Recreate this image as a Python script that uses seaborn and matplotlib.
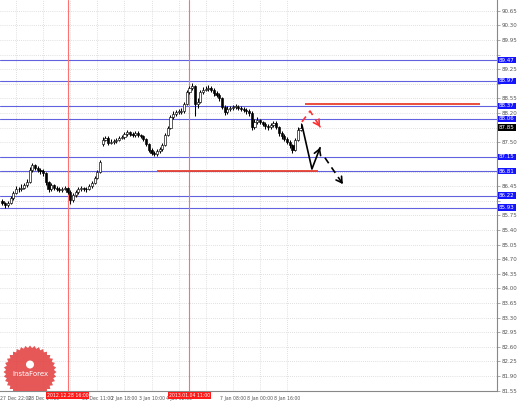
import numpy as np
import matplotlib
matplotlib.use("Agg")
import matplotlib.pyplot as plt
import matplotlib.patches as mpatches
import seaborn as sns

# hourly candles, bar index = position along the time axis
opens = [86.10, 86.05, 86.00, 86.05, 86.17, 86.29, 86.38, 86.38, 86.41, 86.48,
         86.55, 86.84, 86.96, 86.89, 86.84, 86.81, 86.77, 86.55, 86.38, 86.48,
         86.41, 86.38, 86.36, 86.38, 86.41, 86.31, 86.12, 86.24, 86.31, 86.38,
         86.41, 86.38, 86.38, 86.45, 86.53, 86.65, 86.79, 87.45, 87.56, 87.61,
         87.49, 87.51, 87.53, 87.56, 87.61, 87.63, 87.70, 87.75, 87.70, 87.68,
         87.73, 87.68, 87.65, 87.58, 87.46, 87.32, 87.25, 87.22, 87.29, 87.34,
         87.44, 87.68, 87.85, 88.11, 88.18, 88.23, 88.23, 88.25, 88.42, 88.71,
         88.80, 88.85, 88.42, 88.47, 88.71, 88.76, 88.78, 88.80, 88.76, 88.68,
         88.64, 88.56, 88.35, 88.23, 88.30, 88.32, 88.35, 88.35, 88.32, 88.30,
         88.28, 88.25, 88.21, 87.87, 87.99, 88.04, 87.99, 87.94, 87.89, 87.87,
         87.92, 87.97, 87.87, 87.72, 87.65, 87.58, 87.51, 87.44, 87.32, 87.56,
         87.80]
closes = [86.05, 86.00, 86.05, 86.17, 86.29, 86.38, 86.38, 86.41, 86.48, 86.55,
          86.84, 86.96, 86.89, 86.84, 86.81, 86.77, 86.55, 86.38, 86.48, 86.41,
          86.38, 86.36, 86.38, 86.41, 86.31, 86.12, 86.24, 86.31, 86.38, 86.41,
          86.38, 86.38, 86.45, 86.53, 86.65, 86.79, 87.03, 87.56, 87.61, 87.49,
          87.51, 87.53, 87.56, 87.61, 87.63, 87.70, 87.75, 87.70, 87.68, 87.73,
          87.68, 87.65, 87.58, 87.46, 87.32, 87.25, 87.22, 87.29, 87.34, 87.44,
          87.68, 87.85, 88.11, 88.18, 88.23, 88.23, 88.25, 88.42, 88.71, 88.80,
          88.85, 88.42, 88.47, 88.71, 88.76, 88.78, 88.80, 88.76, 88.68, 88.64,
          88.56, 88.35, 88.23, 88.30, 88.32, 88.35, 88.35, 88.32, 88.30, 88.28,
          88.25, 88.21, 87.87, 87.99, 88.04, 87.99, 87.94, 87.89, 87.87, 87.92,
          87.97, 87.87, 87.72, 87.65, 87.58, 87.51, 87.44, 87.32, 87.56, 87.80,
          87.85]
highs = [86.14, 86.08, 86.09, 86.22, 86.33, 86.45, 86.44, 86.50, 86.53, 86.62,
         86.90, 87.00, 86.98, 86.93, 86.88, 86.85, 86.80, 86.58, 86.53, 86.51,
         86.45, 86.42, 86.43, 86.46, 86.44, 86.35, 86.29, 86.36, 86.42, 86.46,
         86.44, 86.43, 86.50, 86.58, 86.70, 86.84, 87.08, 87.62, 87.66, 87.64,
         87.57, 87.58, 87.60, 87.65, 87.68, 87.74, 87.80, 87.78, 87.74, 87.77,
         87.76, 87.71, 87.68, 87.61, 87.49, 87.36, 87.29, 87.33, 87.39, 87.49,
         87.72, 87.90, 88.16, 88.24, 88.28, 88.29, 88.31, 88.47, 88.76, 88.86,
         88.92, 88.88, 88.55, 88.76, 88.82, 88.86, 88.88, 88.84, 88.79, 88.72,
         88.68, 88.59, 88.39, 88.36, 88.38, 88.40, 88.41, 88.39, 88.36, 88.34,
         88.31, 88.29, 88.24, 88.05, 88.10, 88.07, 88.02, 87.98, 87.93, 87.97,
         88.02, 88.00, 87.90, 87.76, 87.69, 87.62, 87.55, 87.47, 87.60, 87.86,
         87.97]
lows = [85.99, 85.93, 85.96, 86.02, 86.12, 86.25, 86.31, 86.34, 86.37, 86.44,
        86.52, 86.80, 86.84, 86.78, 86.75, 86.70, 86.48, 86.30, 86.33, 86.36,
        86.33, 86.31, 86.32, 86.35, 86.26, 86.03, 86.08, 86.20, 86.27, 86.34,
        86.33, 86.32, 86.35, 86.41, 86.50, 86.62, 86.76, 87.42, 87.52, 87.44,
        87.45, 87.47, 87.49, 87.52, 87.57, 87.59, 87.66, 87.64, 87.62, 87.63,
        87.63, 87.60, 87.53, 87.40, 87.27, 87.19, 87.16, 87.18, 87.25, 87.30,
        87.41, 87.64, 87.82, 88.06, 88.13, 88.17, 88.19, 88.21, 88.39, 88.66,
        88.75, 88.12, 88.33, 88.44, 88.66, 88.72, 88.73, 88.70, 88.62, 88.58,
        88.50, 88.29, 88.15, 88.19, 88.26, 88.28, 88.29, 88.27, 88.24, 88.22,
        88.19, 88.14, 87.80, 87.83, 87.94, 87.93, 87.88, 87.83, 87.80, 87.82,
        87.87, 87.81, 87.66, 87.58, 87.52, 87.45, 87.36, 87.25, 87.28, 87.52,
        87.76]

price_ticks = [81.55, 81.90, 82.25, 82.60, 82.95, 83.30, 83.65, 84.00, 84.35,
               84.70, 85.05, 85.40, 85.75, 86.10, 86.45, 86.80, 87.15, 87.50,
               87.85, 88.20, 88.55, 88.90, 89.25, 89.60, 89.95, 90.30, 90.65]
time_ticks = [5, 15, 25, 35, 45, 55, 65, 75, 85, 95, 105]
time_labels = ["27 Dec 22:00", "28 Dec 14:00", "", "31 Dec 11:00",
               "2 Jan 18:00", "3 Jan 10:00", "4 Jan 02:00", "", "7 Jan 08:00",
               "8 Jan 00:00", "8 Jan 16:00"]
marker_bars = [24, 69]
marker_labels = ["2012.12.28 16:00", "2013.01.04 11:00"]

# horizontal levels
blue_levels = [89.47, 88.97, 88.37, 88.06, 87.15, 86.81, 86.22, 85.93]
red_levels = [88.42, 86.81]
red_starts = [111.6, 57.0]
red_ends = [176.2, 116.4]

# forecast arrows
solid_x = [110.5, 114.2, 117.2]
solid_y = [87.92, 86.86, 87.37]
dash_x = [119.0, 125.6]
dash_y = [87.13, 86.50]
red_x = [110.5, 113.5, 117.2]
red_y = [87.99, 88.25, 87.87]

sns.set_style("white")
fig = plt.figure(figsize=(5.18, 4.01), dpi=100)
ax = fig.add_axes([0.0, 1 - 391 / 401, 497 / 518, 391 / 401])

idx = np.arange(len(closes))
o = np.array(opens)
c = np.array(closes)

# candles
ax.vlines(idx, lows, highs, color="black", lw=0.75, zorder=3)
bull = c >= o
body_lo = np.minimum(o, c)
body_h = np.maximum(np.abs(c - o), 0.012)
ax.bar(idx[bull], body_h[bull], bottom=body_lo[bull], width=0.8,
       color="white", edgecolor="black", lw=0.45, zorder=4)
ax.bar(idx[~bull], body_h[~bull], bottom=body_lo[~bull], width=0.8,
       color="black", edgecolor="black", lw=0.45, zorder=4)

for lv in blue_levels:
    ax.axhline(lv, color="#6262e0", lw=0.8, zorder=2)
for lv, x0, x1 in zip(red_levels, red_starts, red_ends):
    ax.hlines(lv, x0, x1, color="#e8402f", lw=1.3, zorder=5)
for b in marker_bars:
    ax.axvline(b, color="#ff7070", lw=0.8, zorder=2)

# forecast paths
sns.lineplot(x=solid_x, y=solid_y, sort=False, color="black", lw=1.2, ax=ax, zorder=6)
sns.lineplot(x=dash_x, y=dash_y, sort=False, color="black", lw=1.2, ax=ax, zorder=6,
             linestyle=(0, (4, 3)))
sns.lineplot(x=red_x, y=red_y, sort=False, color="#ff3030", lw=1.2, ax=ax, zorder=6,
             linestyle=(0, (4, 3)))
for xs, ys, col in [(solid_x, solid_y, "black"), (dash_x, dash_y, "black"),
                    (red_x, red_y, "#ff3030")]:
    ex, ey = xs[-1], ys[-1]
    px, py = xs[-2], ys[-2]
    ax.annotate("", xy=(ex, ey), xytext=(ex - 0.15 * (ex - px), ey - 0.15 * (ey - py)),
                arrowprops=dict(arrowstyle="->,head_length=0.5,head_width=0.3",
                                color=col, lw=1.2, mutation_scale=8), zorder=7)

ax.set_xlim(-0.92, 182.5)
ax.set_ylim(81.54, 90.91)

ax.grid(True, color="#c4c4c4", linestyle=(0, (1, 2)), lw=0.5)
ax.set_axisbelow(True)
ax.yaxis.tick_right()
# gray price labels hidden where a coloured level label sits on top of them
boxed = blue_levels + [closes[-1]]
ax.set_yticks(price_ticks)
ax.set_yticklabels(["" if min(abs(p - b) for b in boxed) < 0.13 else f"{p:.2f}"
                    for p in price_ticks], fontsize=4.0, color="#555555")
ax.set_xticks(time_ticks)
ax.set_xticklabels(time_labels, fontsize=3.3, color="#555555")
ax.tick_params(axis="both", length=2, width=0.5, color="#888888", pad=1.5)
for s in ["top", "left"]:
    ax.spines[s].set_visible(False)
for s in ["right", "bottom"]:
    ax.spines[s].set_color("#888888")
    ax.spines[s].set_linewidth(0.8)

ytr = ax.get_yaxis_transform()
for lv in blue_levels:
    ax.text(1.004, lv, f"{lv:.2f}", transform=ytr, fontsize=4.0, color="white",
            ha="left", va="center", zorder=10, clip_on=False,
            bbox=dict(boxstyle="square,pad=0.15", fc="#1414ff", ec="none"))
ax.text(1.004, closes[-1], f"{closes[-1]:.2f}", transform=ytr, fontsize=4.0,
        color="white", ha="left", va="center", zorder=10, clip_on=False,
        bbox=dict(boxstyle="square,pad=0.15", fc="black", ec="none"))

xtr = ax.get_xaxis_transform()
for b, lab in zip(marker_bars, marker_labels):
    ax.text(b, -0.006, lab, transform=xtr, fontsize=3.3, color="white",
            ha="center", va="top", zorder=10, clip_on=False,
            bbox=dict(boxstyle="square,pad=0.2", fc="#ff1a1a", ec="none"))

# logo stamp in the bottom-left corner
n = 72
ang = np.linspace(0, 2 * np.pi, n, endpoint=False)
rad = np.where(np.arange(n) % 2 == 0, 0.265, 0.24)
cx, cy = 0.30, 0.29
star = mpatches.Polygon(np.column_stack([cx + rad * np.cos(ang), cy + rad * np.sin(ang)]),
                        closed=True, fc="#e23b3b", ec="none", alpha=0.85,
                        transform=fig.dpi_scale_trans, zorder=8)
ax.add_patch(star)
ax.add_patch(mpatches.Circle((cx, cy + 0.075), 0.04, fc="white", ec="none",
                             transform=fig.dpi_scale_trans, zorder=9))
ax.text(cx, cy - 0.02, "InstaForex", transform=fig.dpi_scale_trans, fontsize=5,
        color="white", ha="center", va="center", zorder=9)

fig.savefig("out.png", dpi=100)
